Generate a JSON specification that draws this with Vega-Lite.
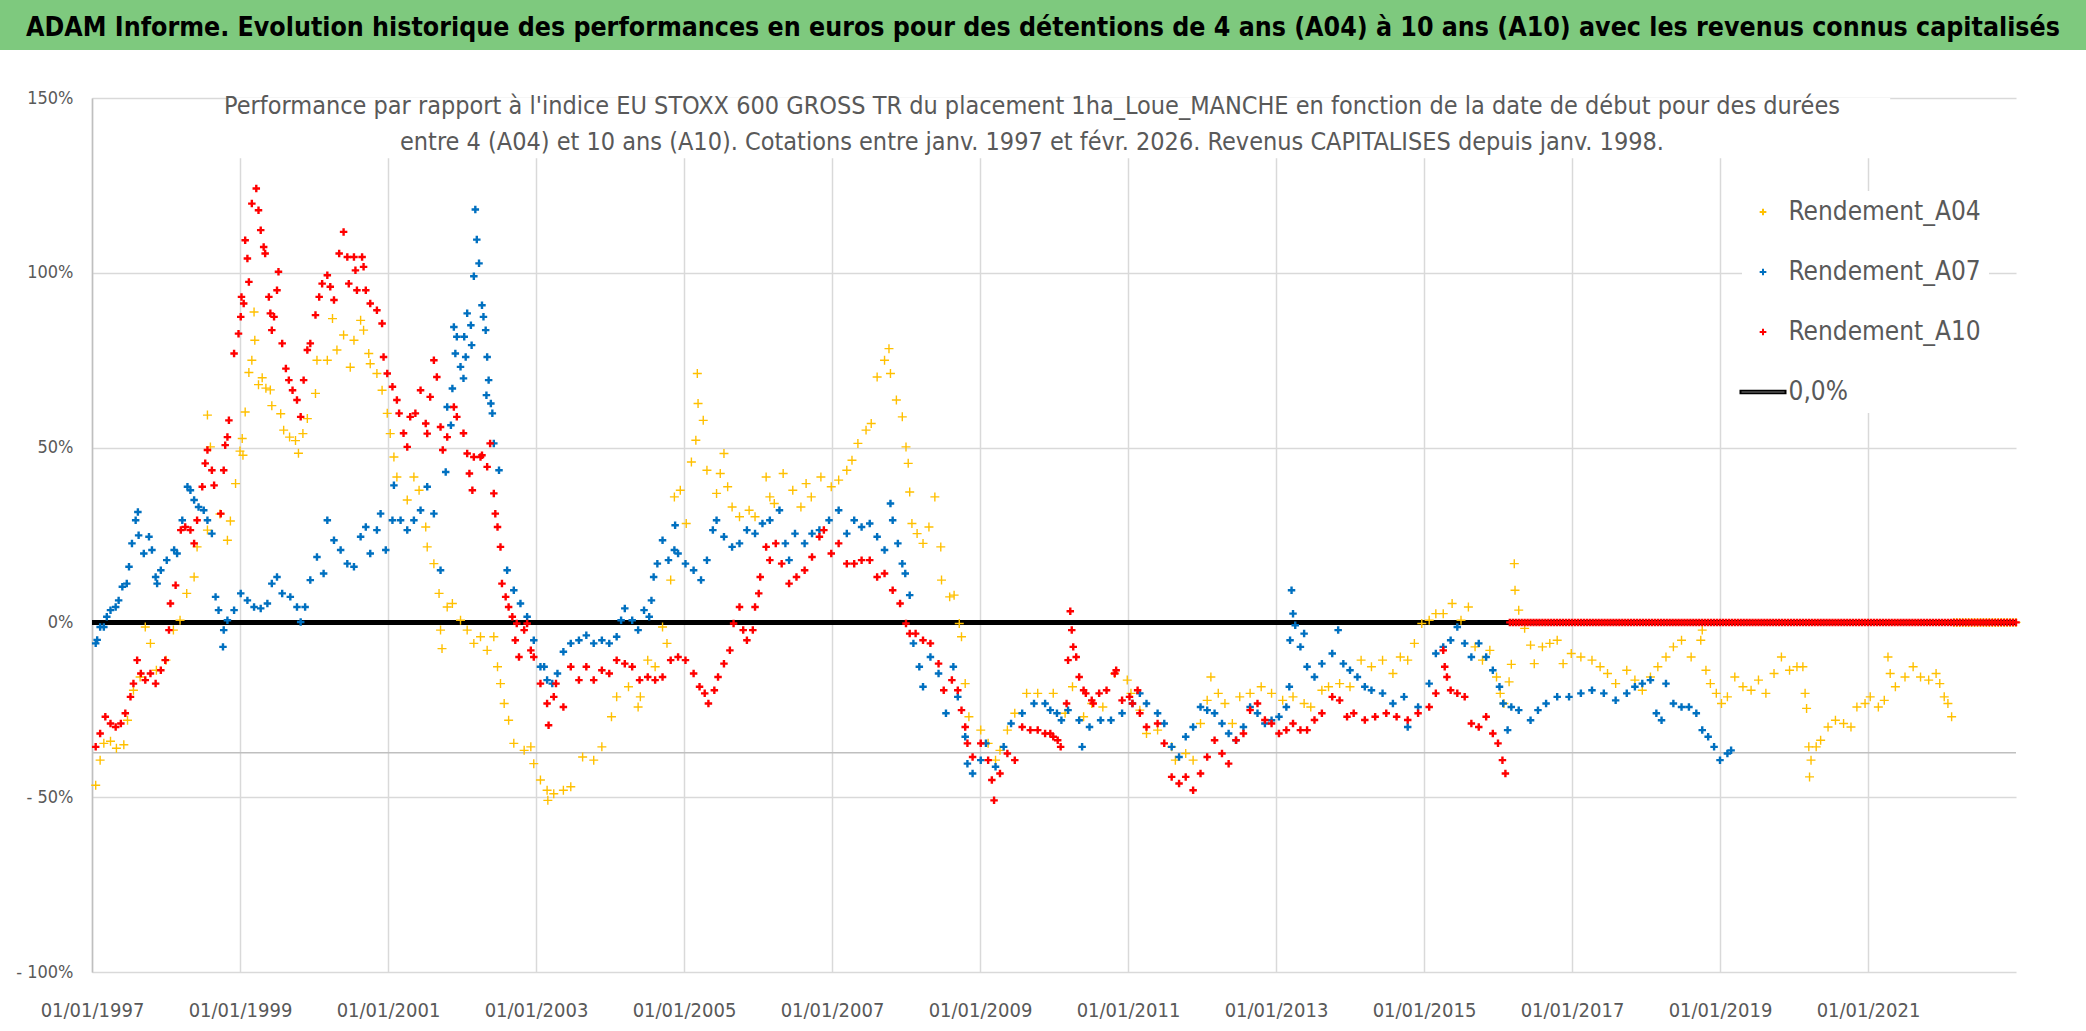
{
"$schema": "https://vega.github.io/schema/vega-lite/v6.json",
"padding": 0,
"background": "white",
"spacing": 39,
"config": {
  "font": "DejaVu Sans Condensed, sans-serif",
  "view": {"stroke": null},
  "axis": {"labelFont": "DejaVu Sans Condensed, sans-serif", "labelColor": "#595959", "gridColor": "#D9D9D9", "gridWidth": 1.5, "ticks": false}
},
"resolve": {"legend": {"color": "independent", "shape": "independent"}, "scale": {"color": "independent", "shape": "independent"}},
"datasets": {
"a04": [
{"t":1997.05,"v":-46.6},{"t":1997.11,"v":-39.4},{"t":1997.16,"v":-34.6},{"t":1997.25,"v":-34},{"t":1997.33,"v":-36},{"t":1997.43,"v":-35},{"t":1997.48,"v":-28},{"t":1997.56,"v":-19.4},{"t":1997.65,"v":-15.6},{"t":1997.72,"v":-1.3},{"t":1997.79,"v":-6},{"t":1997.87,"v":-13.7},{"t":1998.0,"v":-10.8},{"t":1998.1,"v":-2.2},{"t":1998.19,"v":0.6},{"t":1998.28,"v":8.3},{"t":1998.38,"v":13},{"t":1998.42,"v":21.6},{"t":1998.56,"v":26.4},{"t":1998.56,"v":59.3},{"t":1998.6,"v":50.2},{"t":1998.73,"v":31},{"t":1998.83,"v":23.5},{"t":1998.87,"v":29},{"t":1998.94,"v":39.7},{"t":1999.0,"v":49},{"t":1999.03,"v":52.6},{"t":1999.04,"v":47.8},{"t":1999.07,"v":60.2},{"t":1999.12,"v":71.5},{"t":1999.16,"v":75},{"t":1999.19,"v":88.8},{"t":1999.2,"v":80.7},{"t":1999.25,"v":68},{"t":1999.3,"v":70},{"t":1999.35,"v":67},{"t":1999.41,"v":66.5},{"t":1999.43,"v":62},{"t":1999.55,"v":59.7},{"t":1999.59,"v":55},{"t":1999.67,"v":53},{"t":1999.75,"v":52},{"t":1999.79,"v":48.4},{"t":1999.85,"v":54},{"t":1999.91,"v":58.3},{"t":2000.02,"v":65.5},{"t":2000.04,"v":75},{"t":2000.18,"v":75},{"t":2000.25,"v":86.9},{"t":2000.31,"v":77.9},{"t":2000.4,"v":82.2},{"t":2000.49,"v":73},{"t":2000.54,"v":80.7},{"t":2000.63,"v":86.4},{"t":2000.67,"v":83.6},{"t":2000.74,"v":76.9},{"t":2000.76,"v":74},{"t":2000.85,"v":71.2},{"t":2000.92,"v":66.4},{"t":2000.99,"v":59.8},{"t":2001.03,"v":54},{"t":2001.08,"v":47.3},{"t":2001.12,"v":41.6},{"t":2001.26,"v":35},{"t":2001.35,"v":41.6},{"t":2001.42,"v":37.8},{"t":2001.51,"v":27.3},{"t":2001.53,"v":21.6},{"t":2001.62,"v":16.8},{"t":2001.69,"v":8.3},{"t":2001.71,"v":-2.2},{"t":2001.73,"v":-7.5},{"t":2001.8,"v":4.4},{"t":2001.87,"v":5.4},{"t":2001.98,"v":0.6},{"t":2002.07,"v":-2.2},{"t":2002.16,"v":-6},{"t":2002.25,"v":-4.1},{"t":2002.34,"v":-8},{"t":2002.43,"v":-4.1},{"t":2002.48,"v":-12.7},{"t":2002.52,"v":-17.5},{"t":2002.57,"v":-23.2},{"t":2002.63,"v":-28},{"t":2002.7,"v":-34.6},{"t":2002.84,"v":-36.6},{"t":2002.93,"v":-35.6},{"t":2002.97,"v":-40.4},{"t":2003.06,"v":-45.1},{"t":2003.15,"v":-48},{"t":2003.16,"v":-50.9},{"t":2003.24,"v":-49},{"t":2003.37,"v":-48},{"t":2003.47,"v":-47},{"t":2003.63,"v":-38.5},{"t":2003.78,"v":-39.4},{"t":2003.89,"v":-35.6},{"t":2004.02,"v":-27},{"t":2004.09,"v":-21.3},{"t":2004.25,"v":-18.4},{"t":2004.38,"v":-24.2},{"t":2004.41,"v":-21.3},{"t":2004.51,"v":-10.8},{"t":2004.61,"v":-12.7},{"t":2004.71,"v":-1.3},{"t":2004.77,"v":-6},{"t":2004.82,"v":12.1},{"t":2004.87,"v":35.9},{"t":2004.95,"v":37.8},{"t":2005.03,"v":28.3},{"t":2005.1,"v":45.9},{"t":2005.16,"v":52.1},{"t":2005.18,"v":71.2},{"t":2005.19,"v":62.6},{"t":2005.26,"v":57.8},{"t":2005.31,"v":43.5},{"t":2005.44,"v":36.9},{"t":2005.49,"v":42.6},{"t":2005.54,"v":48.3},{"t":2005.59,"v":38.8},{"t":2005.65,"v":33},{"t":2005.75,"v":30.2},{"t":2005.88,"v":32.1},{"t":2005.96,"v":30.2},{"t":2006.11,"v":41.6},{"t":2006.16,"v":35.9},{"t":2006.22,"v":34},{"t":2006.34,"v":42.6},{"t":2006.47,"v":37.8},{"t":2006.58,"v":33},{"t":2006.65,"v":39.7},{"t":2006.72,"v":35.9},{"t":2006.85,"v":41.6},{"t":2006.99,"v":38.8},{"t":2007.09,"v":40.7},{"t":2007.2,"v":43.5},{"t":2007.27,"v":46.4},{"t":2007.35,"v":51.2},{"t":2007.46,"v":55},{"t":2007.53,"v":56.9},{"t":2007.61,"v":70.2},{"t":2007.71,"v":75},{"t":2007.77,"v":78.3},{"t":2007.79,"v":71.2},{"t":2007.87,"v":63.6},{"t":2007.95,"v":58.8},{"t":2008.0,"v":50.2},{"t":2008.03,"v":45.5},{"t":2008.05,"v":37.3},{"t":2008.08,"v":28.3},{"t":2008.15,"v":25.4},{"t":2008.23,"v":22.6},{"t":2008.31,"v":27.3},{"t":2008.39,"v":35.9},{"t":2008.47,"v":21.6},{"t":2008.48,"v":12.1},{"t":2008.59,"v":7.3},{"t":2008.65,"v":7.8},{"t":2008.72,"v":-0.3},{"t":2008.75,"v":-4.1},{"t":2008.8,"v":-17.5},{"t":2008.85,"v":-27},{"t":2009.01,"v":-30.8},{"t":2009.11,"v":-34.6},{"t":2009.21,"v":-39.4},{"t":2009.27,"v":-36.6},{"t":2009.37,"v":-30.8},{"t":2009.47,"v":-26},{"t":2009.63,"v":-20.3},{"t":2009.78,"v":-20.3},{"t":2009.99,"v":-20.3},{"t":2010.15,"v":-26},{"t":2010.25,"v":-18.4},{"t":2010.4,"v":-27},{"t":2010.51,"v":-23.2},{"t":2010.66,"v":-24.2},{"t":2010.82,"v":-14.6},{"t":2010.99,"v":-16.5},{"t":2011.04,"v":-20.3},{"t":2011.16,"v":-25.1},{"t":2011.25,"v":-31.8},{"t":2011.4,"v":-30.8},{"t":2011.59,"v":-35.6},{"t":2011.64,"v":-39.4},{"t":2011.78,"v":-37.5},{"t":2011.88,"v":-39.4},{"t":2011.98,"v":-28.9},{"t":2012.07,"v":-22.3},{"t":2012.12,"v":-15.6},{"t":2012.22,"v":-20.3},{"t":2012.31,"v":-23.2},{"t":2012.41,"v":-28.9},{"t":2012.51,"v":-21.3},{"t":2012.65,"v":-20.3},{"t":2012.8,"v":-18.4},{"t":2012.94,"v":-20.3},{"t":2013.09,"v":-22.3},{"t":2013.23,"v":-21.3},{"t":2013.38,"v":-23.2},{"t":2013.47,"v":-24.2},{"t":2013.62,"v":-19.4},{"t":2013.71,"v":-18.4},{"t":2013.86,"v":-17.5},{"t":2014.0,"v":-18.4},{"t":2014.15,"v":-10.8},{"t":2014.29,"v":-12.7},{"t":2014.44,"v":-10.8},{"t":2014.58,"v":-14.6},{"t":2014.68,"v":-9.9},{"t":2014.78,"v":-10.8},{"t":2014.87,"v":-6},{"t":2014.97,"v":-0.3},{"t":2015.07,"v":0.6},{"t":2015.16,"v":2.5},{"t":2015.26,"v":2.5},{"t":2015.38,"v":5.4},{"t":2015.5,"v":0.6},{"t":2015.6,"v":4.4},{"t":2015.69,"v":-7},{"t":2015.79,"v":-10.8},{"t":2015.89,"v":-8},{"t":2015.98,"v":-15.6},{"t":2016.03,"v":-20.3},{"t":2016.08,"v":-23.2},{"t":2016.15,"v":-17},{"t":2016.18,"v":-12},{"t":2016.22,"v":16.8},{"t":2016.23,"v":9.2},{"t":2016.28,"v":3.5},{"t":2016.36,"v":-1.7},{"t":2016.44,"v":-6.5},{"t":2016.49,"v":-11.8},{"t":2016.6,"v":-7},{"t":2016.7,"v":-6},{"t":2016.8,"v":-5.1},{"t":2016.88,"v":-11.8},{"t":2016.99,"v":-8.9},{"t":2017.12,"v":-9.9},{"t":2017.27,"v":-10.8},{"t":2017.38,"v":-12.7},{"t":2017.48,"v":-14.6},{"t":2017.59,"v":-17.5},{"t":2017.74,"v":-13.7},{"t":2017.85,"v":-16.5},{"t":2017.95,"v":-19.4},{"t":2018.06,"v":-15.6},{"t":2018.16,"v":-12.7},{"t":2018.27,"v":-9.9},{"t":2018.37,"v":-7},{"t":2018.48,"v":-5.1},{"t":2018.61,"v":-9.9},{"t":2018.74,"v":-5.1},{"t":2018.76,"v":-2.2},{"t":2018.81,"v":-13.7},{"t":2018.87,"v":-17.5},{"t":2018.95,"v":-20.3},{"t":2019.02,"v":-23.2},{"t":2019.1,"v":-21.3},{"t":2019.2,"v":-15.6},{"t":2019.31,"v":-18.4},{"t":2019.42,"v":-19.4},{"t":2019.52,"v":-16.5},{"t":2019.62,"v":-20.3},{"t":2019.73,"v":-14.6},{"t":2019.83,"v":-9.9},{"t":2019.94,"v":-13.7},{"t":2020.04,"v":-12.7},{"t":2020.12,"v":-12.7},{"t":2020.15,"v":-20.3},{"t":2020.17,"v":-24.6},{"t":2020.2,"v":-35.6},{"t":2020.21,"v":-44.2},{"t":2020.23,"v":-39.4},{"t":2020.3,"v":-35.6},{"t":2020.36,"v":-33.7},{"t":2020.46,"v":-29.9},{"t":2020.56,"v":-28},{"t":2020.67,"v":-28.9},{"t":2020.77,"v":-29.9},{"t":2020.85,"v":-24.2},{"t":2020.96,"v":-23.2},{"t":2021.03,"v":-21.3},{"t":2021.14,"v":-24.2},{"t":2021.22,"v":-22.3},{"t":2021.27,"v":-9.9},{"t":2021.3,"v":-14.6},{"t":2021.37,"v":-18.4},{"t":2021.5,"v":-15.6},{"t":2021.61,"v":-12.7},{"t":2021.71,"v":-15.6},{"t":2021.82,"v":-16.5},{"t":2021.92,"v":-14.6},{"t":2021.97,"v":-17.5},{"t":2022.03,"v":-21.3},{"t":2022.08,"v":-23.2},{"t":2022.13,"v":-27},
{"t":2022.16,"v":0},{"t":2022.2,"v":0},{"t":2022.24,"v":0},{"t":2022.28,"v":0},{"t":2022.32,"v":0},{"t":2022.36,"v":0},{"t":2022.4,"v":0},{"t":2022.44,"v":0},{"t":2022.48,"v":0},{"t":2022.52,"v":0},{"t":2022.56,"v":0},{"t":2022.6,"v":0},{"t":2022.64,"v":0},{"t":2022.68,"v":0},{"t":2022.72,"v":0},{"t":2022.76,"v":0},{"t":2022.8,"v":0},{"t":2022.84,"v":0},{"t":2022.88,"v":0},{"t":2022.92,"v":0},{"t":2022.96,"v":0},{"t":2023.0,"v":0}
],
"a07": [
{"t":1997.05,"v":-6},{"t":1997.07,"v":-5},{"t":1997.11,"v":-1.3},{"t":1997.16,"v":-1.3},{"t":1997.2,"v":1.6},{"t":1997.25,"v":3.5},{"t":1997.32,"v":4.4},{"t":1997.36,"v":6.3},{"t":1997.41,"v":10.2},{"t":1997.47,"v":11.1},{"t":1997.5,"v":15.9},{"t":1997.54,"v":22.6},{"t":1997.59,"v":29.2},{"t":1997.62,"v":31.6},{"t":1997.63,"v":24.9},{"t":1997.7,"v":19.7},{"t":1997.77,"v":24.5},{"t":1997.81,"v":20.7},{"t":1997.86,"v":13},{"t":1997.88,"v":11.1},{"t":1997.93,"v":14.9},{"t":1998.01,"v":17.8},{"t":1998.11,"v":20.7},{"t":1998.15,"v":19.7},{"t":1998.22,"v":29.2},{"t":1998.29,"v":38.8},{"t":1998.33,"v":37.8},{"t":1998.38,"v":35},{"t":1998.44,"v":33},{"t":1998.51,"v":32.1},{"t":1998.56,"v":29.2},{"t":1998.62,"v":25.4},{"t":1998.67,"v":7.3},{"t":1998.71,"v":3.5},{"t":1998.77,"v":-7},{"t":1998.78,"v":-2.2},{"t":1998.83,"v":0.6},{"t":1998.92,"v":3.5},{"t":1999.01,"v":8.3},{"t":1999.1,"v":6.3},{"t":1999.19,"v":4.4},{"t":1999.28,"v":4},{"t":1999.37,"v":5.4},{"t":1999.43,"v":11.1},{"t":1999.5,"v":13},{"t":1999.57,"v":8.3},{"t":1999.68,"v":7.3},{"t":1999.77,"v":4.4},{"t":1999.82,"v":0.1},{"t":1999.88,"v":4.4},{"t":1999.95,"v":12.1},{"t":2000.04,"v":18.7},{"t":2000.13,"v":14},{"t":2000.18,"v":29.2},{"t":2000.27,"v":23.5},{"t":2000.36,"v":20.7},{"t":2000.45,"v":16.8},{"t":2000.54,"v":15.9},{"t":2000.63,"v":24.5},{"t":2000.7,"v":27.3},{"t":2000.76,"v":19.7},{"t":2000.85,"v":26.4},{"t":2000.9,"v":31.1},{"t":2000.97,"v":20.7},{"t":2001.06,"v":29.2},{"t":2001.08,"v":39.2},{"t":2001.17,"v":29.2},{"t":2001.26,"v":26.4},{"t":2001.35,"v":29.2},{"t":2001.44,"v":32.1},{"t":2001.53,"v":38.8},{"t":2001.62,"v":31.1},{"t":2001.71,"v":14.9},{"t":2001.78,"v":43},{"t":2001.8,"v":61.6},{"t":2001.85,"v":56.4},{"t":2001.87,"v":66.9},{"t":2001.89,"v":84.5},{"t":2001.91,"v":76.9},{"t":2001.93,"v":81.7},{"t":2001.98,"v":73.1},{"t":2002.02,"v":69.8},{"t":2002.03,"v":81.7},{"t":2002.05,"v":75.9},{"t":2002.07,"v":88.4},{"t":2002.12,"v":85},{"t":2002.13,"v":79.3},{"t":2002.16,"v":99},{"t":2002.18,"v":118.1},{"t":2002.2,"v":109.5},{"t":2002.23,"v":102.7},{"t":2002.27,"v":90.7},{"t":2002.29,"v":87.4},{"t":2002.32,"v":83.6},{"t":2002.33,"v":65},{"t":2002.34,"v":75.9},{"t":2002.36,"v":69.3},{"t":2002.39,"v":62.6},{"t":2002.41,"v":59.8},{"t":2002.43,"v":51.2},{"t":2002.5,"v":43.5},{"t":2002.61,"v":14.9},{"t":2002.7,"v":9.2},{"t":2002.79,"v":5.4},{"t":2002.88,"v":1.6},{"t":2002.97,"v":-5.1},{"t":2003.06,"v":-12.7},{"t":2003.11,"v":-12.7},{"t":2003.15,"v":-16.5},{"t":2003.22,"v":-17.5},{"t":2003.29,"v":-14.6},{"t":2003.37,"v":-8.4},{"t":2003.47,"v":-6},{"t":2003.58,"v":-5.1},{"t":2003.68,"v":-3.7},{"t":2003.78,"v":-6},{"t":2003.89,"v":-5.1},{"t":2003.99,"v":-6},{"t":2004.09,"v":-4.1},{"t":2004.15,"v":0.6},{"t":2004.2,"v":4},{"t":2004.3,"v":0.6},{"t":2004.38,"v":-2.2},{"t":2004.46,"v":3.5},{"t":2004.53,"v":1.6},{"t":2004.56,"v":6.3},{"t":2004.59,"v":13},{"t":2004.64,"v":16.8},{"t":2004.71,"v":23.5},{"t":2004.79,"v":17.8},{"t":2004.87,"v":20.7},{"t":2004.88,"v":27.8},{"t":2004.92,"v":19.7},{"t":2005.02,"v":16.8},{"t":2005.13,"v":14.9},{"t":2005.23,"v":12.1},{"t":2005.31,"v":17.8},{"t":2005.39,"v":26.4},{"t":2005.44,"v":29.2},{"t":2005.54,"v":24.5},{"t":2005.65,"v":21.6},{"t":2005.75,"v":22.6},{"t":2005.85,"v":26.4},{"t":2005.96,"v":25.4},{"t":2006.06,"v":28.3},{"t":2006.16,"v":29.2},{"t":2006.29,"v":32.1},{"t":2006.37,"v":22.6},{"t":2006.42,"v":17.8},{"t":2006.5,"v":25.4},{"t":2006.63,"v":22.6},{"t":2006.73,"v":25.4},{"t":2006.83,"v":26.4},{"t":2006.96,"v":29.2},{"t":2007.09,"v":32.1},{"t":2007.2,"v":25.4},{"t":2007.3,"v":29.2},{"t":2007.4,"v":27.3},{"t":2007.51,"v":28.3},{"t":2007.61,"v":24.5},{"t":2007.71,"v":20.7},{"t":2007.79,"v":34},{"t":2007.82,"v":29.2},{"t":2007.89,"v":22.6},{"t":2007.95,"v":16.8},{"t":2007.99,"v":14},{"t":2008.05,"v":7.8},{"t":2008.1,"v":-6},{"t":2008.18,"v":-12.7},{"t":2008.23,"v":-18.4},{"t":2008.33,"v":-9.9},{"t":2008.44,"v":-14.6},{"t":2008.54,"v":-26},{"t":2008.64,"v":-12.7},{"t":2008.7,"v":-21.3},{"t":2008.8,"v":-32.7},{"t":2008.83,"v":-40.4},{"t":2008.9,"v":-43.2},{"t":2009.01,"v":-39.4},{"t":2009.08,"v":-34.6},{"t":2009.21,"v":-41.3},{"t":2009.32,"v":-35.6},{"t":2009.42,"v":-28.9},{"t":2009.57,"v":-26},{"t":2009.73,"v":-23.2},{"t":2009.88,"v":-23.2},{"t":2009.95,"v":-25.1},{"t":2010.04,"v":-26},{"t":2010.1,"v":-28},{"t":2010.19,"v":-25.1},{"t":2010.34,"v":-28},{"t":2010.38,"v":-35.6},{"t":2010.48,"v":-29.9},{"t":2010.63,"v":-28},{"t":2010.77,"v":-28},{"t":2010.92,"v":-26},{"t":2011.06,"v":-23.2},{"t":2011.16,"v":-20.3},{"t":2011.25,"v":-23.2},{"t":2011.4,"v":-26},{"t":2011.49,"v":-28.9},{"t":2011.59,"v":-35.6},{"t":2011.69,"v":-38.5},{"t":2011.78,"v":-32.7},{"t":2011.88,"v":-29.9},{"t":2011.98,"v":-24.2},{"t":2012.07,"v":-25.1},{"t":2012.17,"v":-26},{"t":2012.27,"v":-28.9},{"t":2012.36,"v":-31.8},{"t":2012.46,"v":-33.7},{"t":2012.56,"v":-29.9},{"t":2012.65,"v":-24.2},{"t":2012.75,"v":-26},{"t":2012.85,"v":-28.9},{"t":2012.94,"v":-28},{"t":2013.04,"v":-27},{"t":2013.14,"v":-24.2},{"t":2013.18,"v":-18.4},{"t":2013.19,"v":-5.1},{"t":2013.21,"v":9.2},{"t":2013.23,"v":2.5},{"t":2013.26,"v":-0.8},{"t":2013.33,"v":-7},{"t":2013.38,"v":-3.2},{"t":2013.42,"v":-12.7},{"t":2013.52,"v":-15.6},{"t":2013.62,"v":-11.8},{"t":2013.76,"v":-8.9},{"t":2013.84,"v":-2.2},{"t":2013.91,"v":-11.8},{"t":2014.0,"v":-13.7},{"t":2014.1,"v":-15.6},{"t":2014.2,"v":-18.4},{"t":2014.29,"v":-19.4},{"t":2014.44,"v":-20.3},{"t":2014.58,"v":-23.2},{"t":2014.73,"v":-21.3},{"t":2014.78,"v":-29.9},{"t":2014.92,"v":-24.2},{"t":2015.07,"v":-17.5},{"t":2015.16,"v":-8.9},{"t":2015.26,"v":-7},{"t":2015.36,"v":-5.1},{"t":2015.45,"v":-1.3},{"t":2015.55,"v":-6},{"t":2015.64,"v":-9.9},{"t":2015.74,"v":-6},{"t":2015.84,"v":-9.9},{"t":2015.93,"v":-13.7},{"t":2016.02,"v":-18.4},{"t":2016.07,"v":-23.2},{"t":2016.13,"v":-30.8},{"t":2016.18,"v":-24.2},{"t":2016.28,"v":-25.1},{"t":2016.44,"v":-28},{"t":2016.54,"v":-25.1},{"t":2016.65,"v":-23.2},{"t":2016.8,"v":-21.3},{"t":2016.96,"v":-21.3},{"t":2017.12,"v":-20.3},{"t":2017.27,"v":-19.4},{"t":2017.43,"v":-20.3},{"t":2017.59,"v":-22.3},{"t":2017.74,"v":-20.3},{"t":2017.85,"v":-18.4},{"t":2017.95,"v":-17.5},{"t":2018.06,"v":-16.5},{"t":2018.14,"v":-26},{"t":2018.21,"v":-28},{"t":2018.27,"v":-17.5},{"t":2018.37,"v":-23.2},{"t":2018.48,"v":-24.2},{"t":2018.58,"v":-24.2},{"t":2018.68,"v":-26},{"t":2018.76,"v":-30.8},{"t":2018.84,"v":-32.7},{"t":2018.92,"v":-35.6},{"t":2019.0,"v":-39.4},{"t":2019.1,"v":-37.5},{"t":2019.15,"v":-36.6}
],
"a10": [
{"t":1997.05,"v":-35.6},{"t":1997.11,"v":-31.8},{"t":1997.18,"v":-27},{"t":1997.25,"v":-28.9},{"t":1997.32,"v":-29.9},{"t":1997.39,"v":-28.9},{"t":1997.45,"v":-26},{"t":1997.52,"v":-21.3},{"t":1997.56,"v":-17.5},{"t":1997.61,"v":-10.8},{"t":1997.66,"v":-14.6},{"t":1997.72,"v":-16.5},{"t":1997.79,"v":-14.6},{"t":1997.86,"v":-17.5},{"t":1997.93,"v":-13.7},{"t":1997.99,"v":-10.8},{"t":1998.04,"v":-2.2},{"t":1998.06,"v":5.4},{"t":1998.13,"v":10.6},{"t":1998.2,"v":26.4},{"t":1998.26,"v":27.3},{"t":1998.33,"v":26.4},{"t":1998.38,"v":22.6},{"t":1998.42,"v":29.2},{"t":1998.49,"v":38.8},{"t":1998.53,"v":45.5},{"t":1998.56,"v":49.3},{"t":1998.62,"v":43.5},{"t":1998.65,"v":39.2},{"t":1998.74,"v":31.1},{"t":1998.78,"v":43.5},{"t":1998.8,"v":50.7},{"t":1998.83,"v":53},{"t":1998.85,"v":57.8},{"t":1998.92,"v":76.9},{"t":1998.98,"v":82.6},{"t":1999.01,"v":87.4},{"t":1999.02,"v":93.1},{"t":1999.05,"v":91.2},{"t":1999.07,"v":109.3},{"t":1999.1,"v":104.1},{"t":1999.12,"v":97.4},{"t":1999.16,"v":119.8},{"t":1999.22,"v":124.1},{"t":1999.25,"v":117.9},{"t":1999.28,"v":112.2},{"t":1999.32,"v":107.4},{"t":1999.34,"v":105.5},{"t":1999.39,"v":93.1},{"t":1999.41,"v":88.4},{"t":1999.43,"v":83.6},{"t":1999.46,"v":87.4},{"t":1999.5,"v":95},{"t":1999.52,"v":100.3},{"t":1999.57,"v":79.8},{"t":1999.62,"v":72.6},{"t":1999.66,"v":69.3},{"t":1999.71,"v":66.4},{"t":1999.77,"v":63.6},{"t":1999.82,"v":58.8},{"t":1999.86,"v":69.3},{"t":1999.91,"v":77.9},{"t":1999.95,"v":79.8},{"t":2000.02,"v":87.9},{"t":2000.07,"v":93.1},{"t":2000.11,"v":96.9},{"t":2000.18,"v":99.3},{"t":2000.22,"v":96},{"t":2000.27,"v":92.2},{"t":2000.34,"v":105.5},{"t":2000.4,"v":111.7},{"t":2000.45,"v":104.5},{"t":2000.47,"v":96.9},{"t":2000.54,"v":104.5},{"t":2000.56,"v":100.7},{"t":2000.58,"v":95},{"t":2000.65,"v":104.5},{"t":2000.67,"v":101.7},{"t":2000.7,"v":95},{"t":2000.76,"v":91.2},{"t":2000.85,"v":89.3},{"t":2000.92,"v":85.5},{"t":2000.94,"v":75.9},{"t":2000.99,"v":71.2},{"t":2001.06,"v":67.4},{"t":2001.12,"v":63.6},{"t":2001.15,"v":59.8},{"t":2001.21,"v":54.1},{"t":2001.26,"v":50.2},{"t":2001.3,"v":58.8},{"t":2001.37,"v":59.8},{"t":2001.44,"v":66.4},{"t":2001.51,"v":56.9},{"t":2001.53,"v":54},{"t":2001.57,"v":64.5},{"t":2001.62,"v":75},{"t":2001.66,"v":70.2},{"t":2001.71,"v":55.9},{"t":2001.74,"v":49.3},{"t":2001.8,"v":53},{"t":2001.89,"v":61.6},{"t":2001.93,"v":58.8},{"t":2002.02,"v":54.1},{"t":2002.07,"v":48.3},{"t":2002.1,"v":42.6},{"t":2002.14,"v":37.8},{"t":2002.16,"v":47.3},{"t":2002.25,"v":47.3},{"t":2002.27,"v":47.8},{"t":2002.34,"v":44.5},{"t":2002.38,"v":51.2},{"t":2002.43,"v":36.9},{"t":2002.45,"v":31.1},{"t":2002.48,"v":27.3},{"t":2002.52,"v":21.6},{"t":2002.54,"v":11.1},{"t":2002.59,"v":7.3},{"t":2002.63,"v":4.4},{"t":2002.68,"v":1.6},{"t":2002.72,"v":-5.1},{"t":2002.74,"v":-0.3},{"t":2002.77,"v":-9.9},{"t":2002.84,"v":-2.2},{"t":2002.88,"v":-0.3},{"t":2002.93,"v":-8},{"t":2002.97,"v":-9.9},{"t":2003.06,"v":-17.5},{"t":2003.15,"v":-23.2},{"t":2003.17,"v":-29.4},{"t":2003.24,"v":-21.3},{"t":2003.27,"v":-17.5},{"t":2003.37,"v":-24.2},{"t":2003.47,"v":-12.7},{"t":2003.58,"v":-16.5},{"t":2003.68,"v":-12.7},{"t":2003.78,"v":-16.5},{"t":2003.89,"v":-13.7},{"t":2003.99,"v":-14.6},{"t":2004.09,"v":-10.8},{"t":2004.2,"v":-11.8},{"t":2004.3,"v":-12.7},{"t":2004.4,"v":-16.5},{"t":2004.51,"v":-15.6},{"t":2004.61,"v":-16.5},{"t":2004.71,"v":-15.6},{"t":2004.82,"v":-10.8},{"t":2004.92,"v":-9.9},{"t":2005.02,"v":-10.8},{"t":2005.13,"v":-14.6},{"t":2005.21,"v":-18.4},{"t":2005.28,"v":-20.3},{"t":2005.33,"v":-23.2},{"t":2005.41,"v":-19.4},{"t":2005.46,"v":-15.6},{"t":2005.54,"v":-11.8},{"t":2005.62,"v":-8},{"t":2005.67,"v":-0.3},{"t":2005.75,"v":4.4},{"t":2005.8,"v":-2.2},{"t":2005.85,"v":-5.1},{"t":2005.93,"v":-2.2},{"t":2005.96,"v":4.4},{"t":2006.01,"v":8.3},{"t":2006.03,"v":13},{"t":2006.11,"v":21.6},{"t":2006.16,"v":17.8},{"t":2006.24,"v":22.6},{"t":2006.32,"v":16.8},{"t":2006.42,"v":11.1},{"t":2006.52,"v":13},{"t":2006.63,"v":14.9},{"t":2006.73,"v":18.7},{"t":2006.83,"v":24.5},{"t":2006.89,"v":26.4},{"t":2006.99,"v":19.7},{"t":2007.09,"v":22.6},{"t":2007.2,"v":16.8},{"t":2007.3,"v":16.8},{"t":2007.4,"v":17.8},{"t":2007.51,"v":17.8},{"t":2007.61,"v":13},{"t":2007.71,"v":14},{"t":2007.82,"v":9.2},{"t":2007.92,"v":5.4},{"t":2008.0,"v":-0.3},{"t":2008.05,"v":-3.2},{"t":2008.13,"v":-3.2},{"t":2008.23,"v":-5.1},{"t":2008.33,"v":-6},{"t":2008.44,"v":-11.8},{"t":2008.51,"v":-19.4},{"t":2008.62,"v":-16.5},{"t":2008.7,"v":-19.4},{"t":2008.75,"v":-25.1},{"t":2008.8,"v":-29.9},{"t":2008.83,"v":-34.6},{"t":2008.9,"v":-38.5},{"t":2009.01,"v":-34.6},{"t":2009.11,"v":-39.4},{"t":2009.16,"v":-45.1},{"t":2009.19,"v":-50.9},{"t":2009.27,"v":-43.2},{"t":2009.37,"v":-37.5},{"t":2009.47,"v":-39.4},{"t":2009.57,"v":-29.9},{"t":2009.68,"v":-30.8},{"t":2009.78,"v":-30.8},{"t":2009.88,"v":-31.8},{"t":2009.95,"v":-31.8},{"t":2009.99,"v":-32.7},{"t":2010.05,"v":-33.7},{"t":2010.09,"v":-35.6},{"t":2010.17,"v":-23.2},{"t":2010.19,"v":-10.8},{"t":2010.22,"v":3.2},{"t":2010.24,"v":-2.2},{"t":2010.26,"v":-7},{"t":2010.3,"v":-9.9},{"t":2010.34,"v":-15.6},{"t":2010.4,"v":-19.4},{"t":2010.43,"v":-20.3},{"t":2010.51,"v":-22.3},{"t":2010.53,"v":-23.2},{"t":2010.61,"v":-20.3},{"t":2010.71,"v":-19.4},{"t":2010.82,"v":-14.6},{"t":2010.84,"v":-13.7},{"t":2010.92,"v":-22.3},{"t":2011.02,"v":-21.3},{"t":2011.06,"v":-23.2},{"t":2011.13,"v":-19.4},{"t":2011.16,"v":-26},{"t":2011.25,"v":-29.9},{"t":2011.4,"v":-28.9},{"t":2011.49,"v":-34.6},{"t":2011.59,"v":-44.2},{"t":2011.69,"v":-46.1},{"t":2011.78,"v":-44.2},{"t":2011.88,"v":-48},{"t":2011.98,"v":-43.2},{"t":2012.07,"v":-38.5},{"t":2012.17,"v":-33.7},{"t":2012.27,"v":-37.5},{"t":2012.36,"v":-40.4},{"t":2012.46,"v":-33.7},{"t":2012.56,"v":-31.8},{"t":2012.65,"v":-25.1},{"t":2012.75,"v":-23.2},{"t":2012.85,"v":-27.9},{"t":2012.94,"v":-28.9},{"t":2013.04,"v":-31.8},{"t":2013.14,"v":-30.8},{"t":2013.23,"v":-28.9},{"t":2013.33,"v":-30.8},{"t":2013.42,"v":-30.8},{"t":2013.52,"v":-27.9},{"t":2013.62,"v":-26},{"t":2013.76,"v":-21.3},{"t":2013.86,"v":-22.3},{"t":2013.96,"v":-27},{"t":2014.05,"v":-26},{"t":2014.2,"v":-27.9},{"t":2014.34,"v":-27},{"t":2014.49,"v":-26},{"t":2014.63,"v":-27},{"t":2014.78,"v":-27.9},{"t":2014.92,"v":-26},{"t":2015.07,"v":-24.2},{"t":2015.16,"v":-20.3},{"t":2015.26,"v":-8},{"t":2015.28,"v":-12.7},{"t":2015.31,"v":-15.6},{"t":2015.36,"v":-19.4},{"t":2015.45,"v":-20.3},{"t":2015.55,"v":-21.3},{"t":2015.64,"v":-28.9},{"t":2015.74,"v":-29.9},{"t":2015.84,"v":-27},{"t":2015.93,"v":-31.8},{"t":2016.0,"v":-34.6},{"t":2016.06,"v":-39.4},{"t":2016.1,"v":-43.2},
{"t":2016.16,"v":0},{"t":2016.2,"v":0},{"t":2016.24,"v":0},{"t":2016.28,"v":0},{"t":2016.32,"v":0},{"t":2016.36,"v":0},{"t":2016.4,"v":0},{"t":2016.44,"v":0},{"t":2016.48,"v":0},{"t":2016.52,"v":0},{"t":2016.56,"v":0},{"t":2016.6,"v":0},{"t":2016.64,"v":0},{"t":2016.68,"v":0},{"t":2016.72,"v":0},{"t":2016.76,"v":0},{"t":2016.8,"v":0},{"t":2016.84,"v":0},{"t":2016.88,"v":0},{"t":2016.92,"v":0},{"t":2016.96,"v":0},
{"t":2017.0,"v":0},{"t":2017.04,"v":0},{"t":2017.08,"v":0},{"t":2017.12,"v":0},{"t":2017.16,"v":0},{"t":2017.2,"v":0},{"t":2017.24,"v":0},{"t":2017.28,"v":0},{"t":2017.32,"v":0},{"t":2017.36,"v":0},{"t":2017.4,"v":0},{"t":2017.44,"v":0},{"t":2017.48,"v":0},{"t":2017.52,"v":0},{"t":2017.56,"v":0},{"t":2017.6,"v":0},{"t":2017.64,"v":0},{"t":2017.68,"v":0},{"t":2017.72,"v":0},{"t":2017.76,"v":0},{"t":2017.8,"v":0},{"t":2017.84,"v":0},{"t":2017.88,"v":0},{"t":2017.92,"v":0},{"t":2017.96,"v":0},
{"t":2018.0,"v":0},{"t":2018.04,"v":0},{"t":2018.08,"v":0},{"t":2018.12,"v":0},{"t":2018.16,"v":0},{"t":2018.2,"v":0},{"t":2018.24,"v":0},{"t":2018.28,"v":0},{"t":2018.32,"v":0},{"t":2018.36,"v":0},{"t":2018.4,"v":0},{"t":2018.44,"v":0},{"t":2018.48,"v":0},{"t":2018.52,"v":0},{"t":2018.56,"v":0},{"t":2018.6,"v":0},{"t":2018.64,"v":0},{"t":2018.68,"v":0},{"t":2018.72,"v":0},{"t":2018.76,"v":0},{"t":2018.8,"v":0},{"t":2018.84,"v":0},{"t":2018.88,"v":0},{"t":2018.92,"v":0},{"t":2018.96,"v":0},
{"t":2019.0,"v":0},{"t":2019.04,"v":0},{"t":2019.08,"v":0},{"t":2019.12,"v":0},{"t":2019.16,"v":0},{"t":2019.2,"v":0},{"t":2019.24,"v":0},{"t":2019.28,"v":0},{"t":2019.32,"v":0},{"t":2019.36,"v":0},{"t":2019.4,"v":0},{"t":2019.44,"v":0},{"t":2019.48,"v":0},{"t":2019.52,"v":0},{"t":2019.56,"v":0},{"t":2019.6,"v":0},{"t":2019.64,"v":0},{"t":2019.68,"v":0},{"t":2019.72,"v":0},{"t":2019.76,"v":0},{"t":2019.8,"v":0},{"t":2019.84,"v":0},{"t":2019.88,"v":0},{"t":2019.92,"v":0},{"t":2019.96,"v":0},
{"t":2020.0,"v":0},{"t":2020.04,"v":0},{"t":2020.08,"v":0},{"t":2020.12,"v":0},{"t":2020.16,"v":0},{"t":2020.2,"v":0},{"t":2020.24,"v":0},{"t":2020.28,"v":0},{"t":2020.32,"v":0},{"t":2020.36,"v":0},{"t":2020.4,"v":0},{"t":2020.44,"v":0},{"t":2020.48,"v":0},{"t":2020.52,"v":0},{"t":2020.56,"v":0},{"t":2020.6,"v":0},{"t":2020.64,"v":0},{"t":2020.68,"v":0},{"t":2020.72,"v":0},{"t":2020.76,"v":0},{"t":2020.8,"v":0},{"t":2020.84,"v":0},{"t":2020.88,"v":0},{"t":2020.92,"v":0},{"t":2020.96,"v":0},
{"t":2021.0,"v":0},{"t":2021.04,"v":0},{"t":2021.08,"v":0},{"t":2021.12,"v":0},{"t":2021.16,"v":0},{"t":2021.2,"v":0},{"t":2021.24,"v":0},{"t":2021.28,"v":0},{"t":2021.32,"v":0},{"t":2021.36,"v":0},{"t":2021.4,"v":0},{"t":2021.44,"v":0},{"t":2021.48,"v":0},{"t":2021.52,"v":0},{"t":2021.56,"v":0},{"t":2021.6,"v":0},{"t":2021.64,"v":0},{"t":2021.68,"v":0},{"t":2021.72,"v":0},{"t":2021.76,"v":0},{"t":2021.8,"v":0},{"t":2021.84,"v":0},{"t":2021.88,"v":0},{"t":2021.92,"v":0},{"t":2021.96,"v":0},
{"t":2022.0,"v":0},{"t":2022.04,"v":0},{"t":2022.08,"v":0},{"t":2022.12,"v":0},{"t":2022.16,"v":0},{"t":2022.2,"v":0},{"t":2022.24,"v":0},{"t":2022.28,"v":0},{"t":2022.32,"v":0},{"t":2022.36,"v":0},{"t":2022.4,"v":0},{"t":2022.44,"v":0},{"t":2022.48,"v":0},{"t":2022.52,"v":0},{"t":2022.56,"v":0},{"t":2022.6,"v":0},{"t":2022.64,"v":0},{"t":2022.68,"v":0},{"t":2022.72,"v":0},{"t":2022.76,"v":0},{"t":2022.8,"v":0},{"t":2022.84,"v":0},{"t":2022.88,"v":0},{"t":2022.92,"v":0},{"t":2022.96,"v":0},{"t":2023.0,"v":0}
]
},
"vconcat": [
{
  "width": 2086, "height": 50,
  "view": {"fill": "#7EC97E", "stroke": null},
  "data": {"values": [{"titre": "ADAM Informe. Evolution historique des performances en euros pour des détentions de 4 ans (A04) à 10 ans (A10) avec les revenus connus capitalisés"}]},
  "mark": {"type": "text", "font": "DejaVu Sans Condensed, sans-serif", "fontWeight": "bold", "fontSize": 26.5, "color": "#000000", "align": "center", "baseline": "middle", "dy": 3},
  "encoding": {"text": {"field": "titre"}}
},
{
  "spacing": 0,
  "resolve": {"legend": {"color": "independent", "shape": "independent"}, "scale": {"color": "independent", "shape": "independent"}},
  "hconcat": [
    {
      "width": 1, "height": 874,
      "view": {"fill": "#ffffff", "stroke": null},
      "data": {"values": [{"e": ""}]},
      "mark": {"type": "text"},
      "encoding": {"text": {"field": "e"}}
    },
    {
      "width": 1924, "height": 874,
      "title": {
        "text": ["Performance par rapport à l'indice EU STOXX 600 GROSS TR  du placement 1ha_Loue_MANCHE en fonction de la date de début pour des durées", "entre 4 (A04) et 10 ans (A10). Cotations entre janv. 1997 et févr. 2026. Revenus CAPITALISES depuis janv. 1998."],
        "font": "DejaVu Sans Condensed, sans-serif", "fontSize": 25, "fontWeight": "normal", "color": "#595959", "anchor": "middle", "frame": "group", "offset": -66, "dx": -22, "lineHeight": 36
      },
      "layer": [
        {
          "data": {"values": [{}]},
          "mark": {"type": "rect", "color": "#ffffff"},
          "encoding": {"x": {"datum": 1998.83, "type": "quantitative"}, "x2": {"datum": 2021.3}, "y": {"datum": 150, "type": "quantitative"}, "y2": {"datum": 132.8}}
        },
        {
          "data": {"values": [{}]},
          "mark": {"type": "rule", "color": "#BFBFBF", "strokeWidth": 1.5},
          "encoding": {"y": {"datum": -37.3, "type": "quantitative"}}
        },
        {
          "data": {"values": [{}]},
          "mark": {"type": "rule", "color": "#000000", "strokeWidth": 5},
          "encoding": {"y": {"datum": 0, "type": "quantitative"}}
        },
        {
          "data": {"name": "a04"},
          "mark": {"type": "point", "filled": false, "opacity": 1, "size": 180, "strokeWidth": 1.4},
          "encoding": {
            "x": {"field": "t", "type": "quantitative", "title": null,
                  "scale": {"domain": [1997, 2023], "nice": false, "zero": false},
                  "axis": {"values": [1997, 1999, 2001, 2003, 2005, 2007, 2009, 2011, 2013, 2015, 2017, 2019, 2021], "labelExpr": "'01/01/' + datum.value", "grid": true, "domain": false, "labelFontSize": 20, "labelPadding": 28, "labelFlush": false, "labelOverlap": false}},
            "y": {"field": "v", "type": "quantitative", "title": null,
                  "scale": {"domain": [-100, 150], "nice": false, "zero": false},
                  "axis": {"values": [-100, -50, 0, 50, 100, 150], "labelExpr": "datum.value < 0 ? '- ' + abs(datum.value) + '%' : datum.value + '%'", "grid": true, "domain": true, "domainColor": "#BFBFBF", "domainWidth": 1.5, "labelFontSize": 18, "labelPadding": 19, "minExtent": 90.5}},
            "color": {"datum": "Rendement_A04", "type": "nominal",
                      "scale": {"domain": ["Rendement_A04", "Rendement_A07", "Rendement_A10", "0,0%"], "range": ["#FFC000", "#0070C0", "#FF0000", "#000000"]},
                      "legend": {"title": null, "orient": "none", "legendX": 1650, "legendY": 93, "padding": 8, "fillColor": "white", "strokeColor": null,
                                 "labelFontSize": 26, "labelColor": "#595959", "labelFont": "DejaVu Sans Condensed, sans-serif", "labelLimit": 400,
                                 "symbolSize": 100, "symbolStrokeWidth": 2, "labelOffset": 12.5, "rowPadding": 34}},
            "shape": {"datum": "Rendement_A04", "type": "nominal",
                      "scale": {"domain": ["Rendement_A04", "Rendement_A07", "Rendement_A10", "0,0%"], "range": ["M-0.67,0L0.67,0M0,-0.67L0,0.67", "M-0.67,0L0.67,0M0,-0.67L0,0.67", "M-0.67,0L0.67,0M0,-0.67L0,0.67", "M-4.5,-0.25L4.5,-0.25L4.5,0.25L-4.5,0.25Z"]},
                      "legend": {"title": null, "orient": "none", "legendX": 1650, "legendY": 93, "padding": 8, "fillColor": "white", "strokeColor": null,
                                 "labelFontSize": 26, "labelColor": "#595959", "labelFont": "DejaVu Sans Condensed, sans-serif", "labelLimit": 400,
                                 "symbolSize": 100, "symbolStrokeWidth": 2, "labelOffset": 12.5, "rowPadding": 34}}
          }
        },
        {
          "data": {"name": "a07"},
          "mark": {"type": "point", "filled": false, "opacity": 1, "size": 125, "strokeWidth": 2.4},
          "encoding": {
            "x": {"field": "t", "type": "quantitative", "title": null},
            "y": {"field": "v", "type": "quantitative", "title": null},
            "color": {"datum": "Rendement_A07", "type": "nominal"},
            "shape": {"datum": "Rendement_A07", "type": "nominal"}
          }
        },
        {
          "data": {"name": "a10"},
          "mark": {"type": "point", "filled": false, "opacity": 1, "size": 125, "strokeWidth": 2.4},
          "encoding": {
            "x": {"field": "t", "type": "quantitative", "title": null},
            "y": {"field": "v", "type": "quantitative", "title": null},
            "color": {"datum": "Rendement_A10", "type": "nominal"},
            "shape": {"datum": "Rendement_A10", "type": "nominal"}
          }
        }
      ]
    }
  ]
}
]
}
